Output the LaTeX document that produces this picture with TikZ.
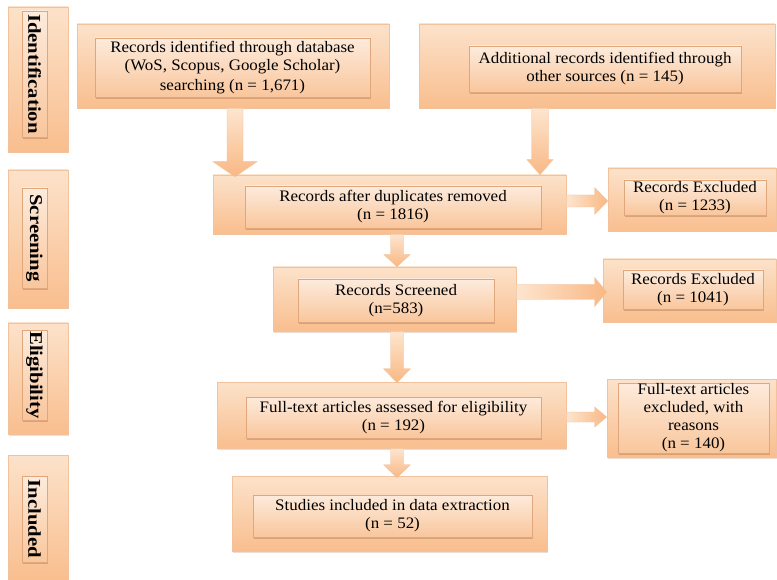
\documentclass[tikz,border=0pt]{standalone}
\usepackage{fontspec}
\setmainfont{Liberation Serif}
\newfontfamily\boxfont[FakeStretch=1.06]{Liberation Serif}
\newfontfamily\stagefont[FakeStretch=1.15]{Liberation Serif}
\usetikzlibrary{calc,shadows}

\definecolor{outtop}{HTML}{FCE2CA}
\definecolor{outbot}{HTML}{F9BE8E}
\definecolor{obord}{HTML}{F2C29C}
\definecolor{intop}{HTML}{FDEBDC}
\definecolor{inbot}{HTML}{F9C69C}
\definecolor{ibord}{HTML}{DFA77B}
\definecolor{arlight}{HTML}{FDE5CF}
\definecolor{ardark}{HTML}{F9B884}
\definecolor{shadowc}{HTML}{A0653A}

\tikzset{
  outerbox/.style={draw=obord, line width=0.6pt, top color=outtop, bottom color=outbot,
    inner sep=0pt,
    drop shadow={shadow xshift=1pt, shadow yshift=-1.5pt, opacity=0.22, fill=shadowc}},
  innerbox/.style={draw=ibord, line width=0.5pt, top color=intop, bottom color=inbot,
    inner sep=0pt, align=center, text=black,
    font=\boxfont\fontsize{16}{18}\selectfont,
    drop shadow={shadow xshift=1.2pt, shadow yshift=-1.6pt, opacity=0.35, fill=shadowc}},
  stagebox/.style={innerbox, font=\stagefont\bfseries\fontsize{18}{20}\selectfont},
  vblock/.style={top color=arlight, bottom color=ardark, draw=obord, line width=0.4pt},
  hblock/.style={left color=arlight, right color=ardark, draw=obord, line width=0.4pt}
}

% vertical block arrow: start, end, half shaft width, half head width, head length
\newcommand\downblock[5]{%
  \path[vblock] let \p1=(#1), \p2=(#2) in
    (\x1-#3,\y1) -- (\x1+#3,\y1) -- (\x1+#3,\y2+#5) -- (\x1+#4,\y2+#5) --
    (\x1,\y2) -- (\x1-#4,\y2+#5) -- (\x1-#3,\y2+#5) -- cycle;}
% horizontal block arrow: start, end, half shaft height, half head height, head length
\newcommand\rightblock[5]{%
  \path[hblock] let \p1=(#1), \p2=(#2) in
    (\x1,\y1+#3) -- (\x1,\y1-#3) -- (\x2-#5,\y1-#3) -- (\x2-#5,\y1-#4) --
    (\x2,\y1) -- (\x2-#5,\y1+#4) -- (\x2-#5,\y1+#3) -- cycle;}

\begin{document}
\begin{tikzpicture}[x=1pt, y=-1pt]
\useasboundingbox (0,0) rectangle (777,580);
\fill[white] (0,0) rectangle (777,580);

% stage column
\node[outerbox, minimum width=60pt, minimum height=145pt] (l1o) at (38,79.5) {};
\node[stagebox, minimum width=25pt, minimum height=126pt] (l1i) at (34.5,74) {\rotatebox{-90}{Identification}};
\node[outerbox, minimum width=60pt, minimum height=138pt] (l2o) at (38,239) {};
\node[stagebox, minimum width=25pt, minimum height=100pt] (l2i) at (34.5,238) {\rotatebox{-90}{Screening}};
\node[outerbox, minimum width=60pt, minimum height=111pt] (l3o) at (38,378.5) {};
\node[stagebox, minimum width=25pt, minimum height=90pt] (l3i) at (34.5,375) {\rotatebox{-90}{Eligibility}};
\node[outerbox, minimum width=60pt, minimum height=126pt] (l4o) at (38,518) {};
\node[stagebox, minimum width=25pt, minimum height=86pt] (l4i) at (34.5,519) {\rotatebox{-90}{Included}};

% identification
\node[outerbox, minimum width=312pt, minimum height=84pt] (b1o) at (233,66) {};
\node[innerbox, minimum width=275pt, minimum height=59pt] (b1i) at (232.5,67.5)
  {Records identified through database\\(WoS, Scopus, Google Scholar)\\[2pt]searching (n = 1,671)};
\node[outerbox, minimum width=356pt, minimum height=84pt] (b2o) at (597,66) {};
\node[innerbox, minimum width=272pt, minimum height=46pt] (b2i) at (605,69)
  {Additional records identified through\\other sources (n = 145)};

% screening
\node[outerbox, minimum width=353pt, minimum height=59pt] (b3o) at (389.5,204.5) {};
\node[innerbox, minimum width=296pt, minimum height=42pt] (b3i) at (393,207)
  {Records after duplicates removed\\(n = 1816)};
\node[outerbox, minimum width=168pt, minimum height=63pt] (e1o) at (692,199.5) {};
\node[innerbox, minimum width=142pt, minimum height=35pt] (e1i) at (695,197.5)
  {Records Excluded\\(n = 1233)};
\node[outerbox, minimum width=243pt, minimum height=64pt] (b4o) at (394.5,299) {};
\node[innerbox, minimum width=196pt, minimum height=43pt] (b4i) at (396,300.5)
  {Records Screened\\(n=583)};
\node[outerbox, minimum width=173pt, minimum height=63pt] (e2o) at (689.5,290.5) {};
\node[innerbox, minimum width=140pt, minimum height=39pt] (e2i) at (693,289.5)
  {Records Excluded\\(n = 1041)};

% eligibility
\node[outerbox, minimum width=349pt, minimum height=66pt] (b5o) at (391.5,415) {};
\node[innerbox, minimum width=295pt, minimum height=41pt] (b5i) at (393.5,417.5)
  {Full-text articles assessed for eligibility\\(n = 192)};
\node[outerbox, minimum width=169pt, minimum height=78pt] (e3o) at (691.5,418) {};
\node[innerbox, minimum width=151pt, minimum height=70pt] (e3i) at (693.5,418)
  {Full-text articles\\excluded, with\\reasons\\(n = 140)};

% included
\node[outerbox, minimum width=315pt, minimum height=75pt] (b6o) at (389.5,513.5) {};
\node[innerbox, minimum width=279pt, minimum height=42pt] (b6i) at (392.5,516)
  {Studies included in data extraction\\(n = 52)};

% block arrows
\downblock{$(b1o.south)+(2,0)$}{$(b3o.north)+(0,2)$}{8pt}{22pt}{15pt}
\downblock{$(b2o.south)+(-57,0)$}{$(b3o.north)+(0,0)$}{8.5pt}{13pt}{15pt}
\rightblock{$(b3o.east)+(0,-3.5)$}{$(e1o.west)+(0,0)$}{6pt}{13.5pt}{13pt}
\downblock{$(b3o.south)+(7.5,0)$}{$(b4o.north)+(0,0)$}{6.5pt}{13pt}{12pt}
\rightblock{$(b4o.east)+(0,-7)$}{$(e2o.west)+(4,0)$}{7.5pt}{14.5pt}{12pt}
\downblock{$(b4o.south)+(2.5,0)$}{$(b5o.north)+(0,1)$}{6.5pt}{13.5pt}{14pt}
\rightblock{$(b5o.east)+(0,2)$}{$(e3o.west)+(0,0)$}{5pt}{10pt}{12pt}
\downblock{$(b5o.south)+(5.5,0)$}{$(b6o.north)+(0,2)$}{6.5pt}{13.5pt}{13pt}
\end{tikzpicture}
\end{document}
